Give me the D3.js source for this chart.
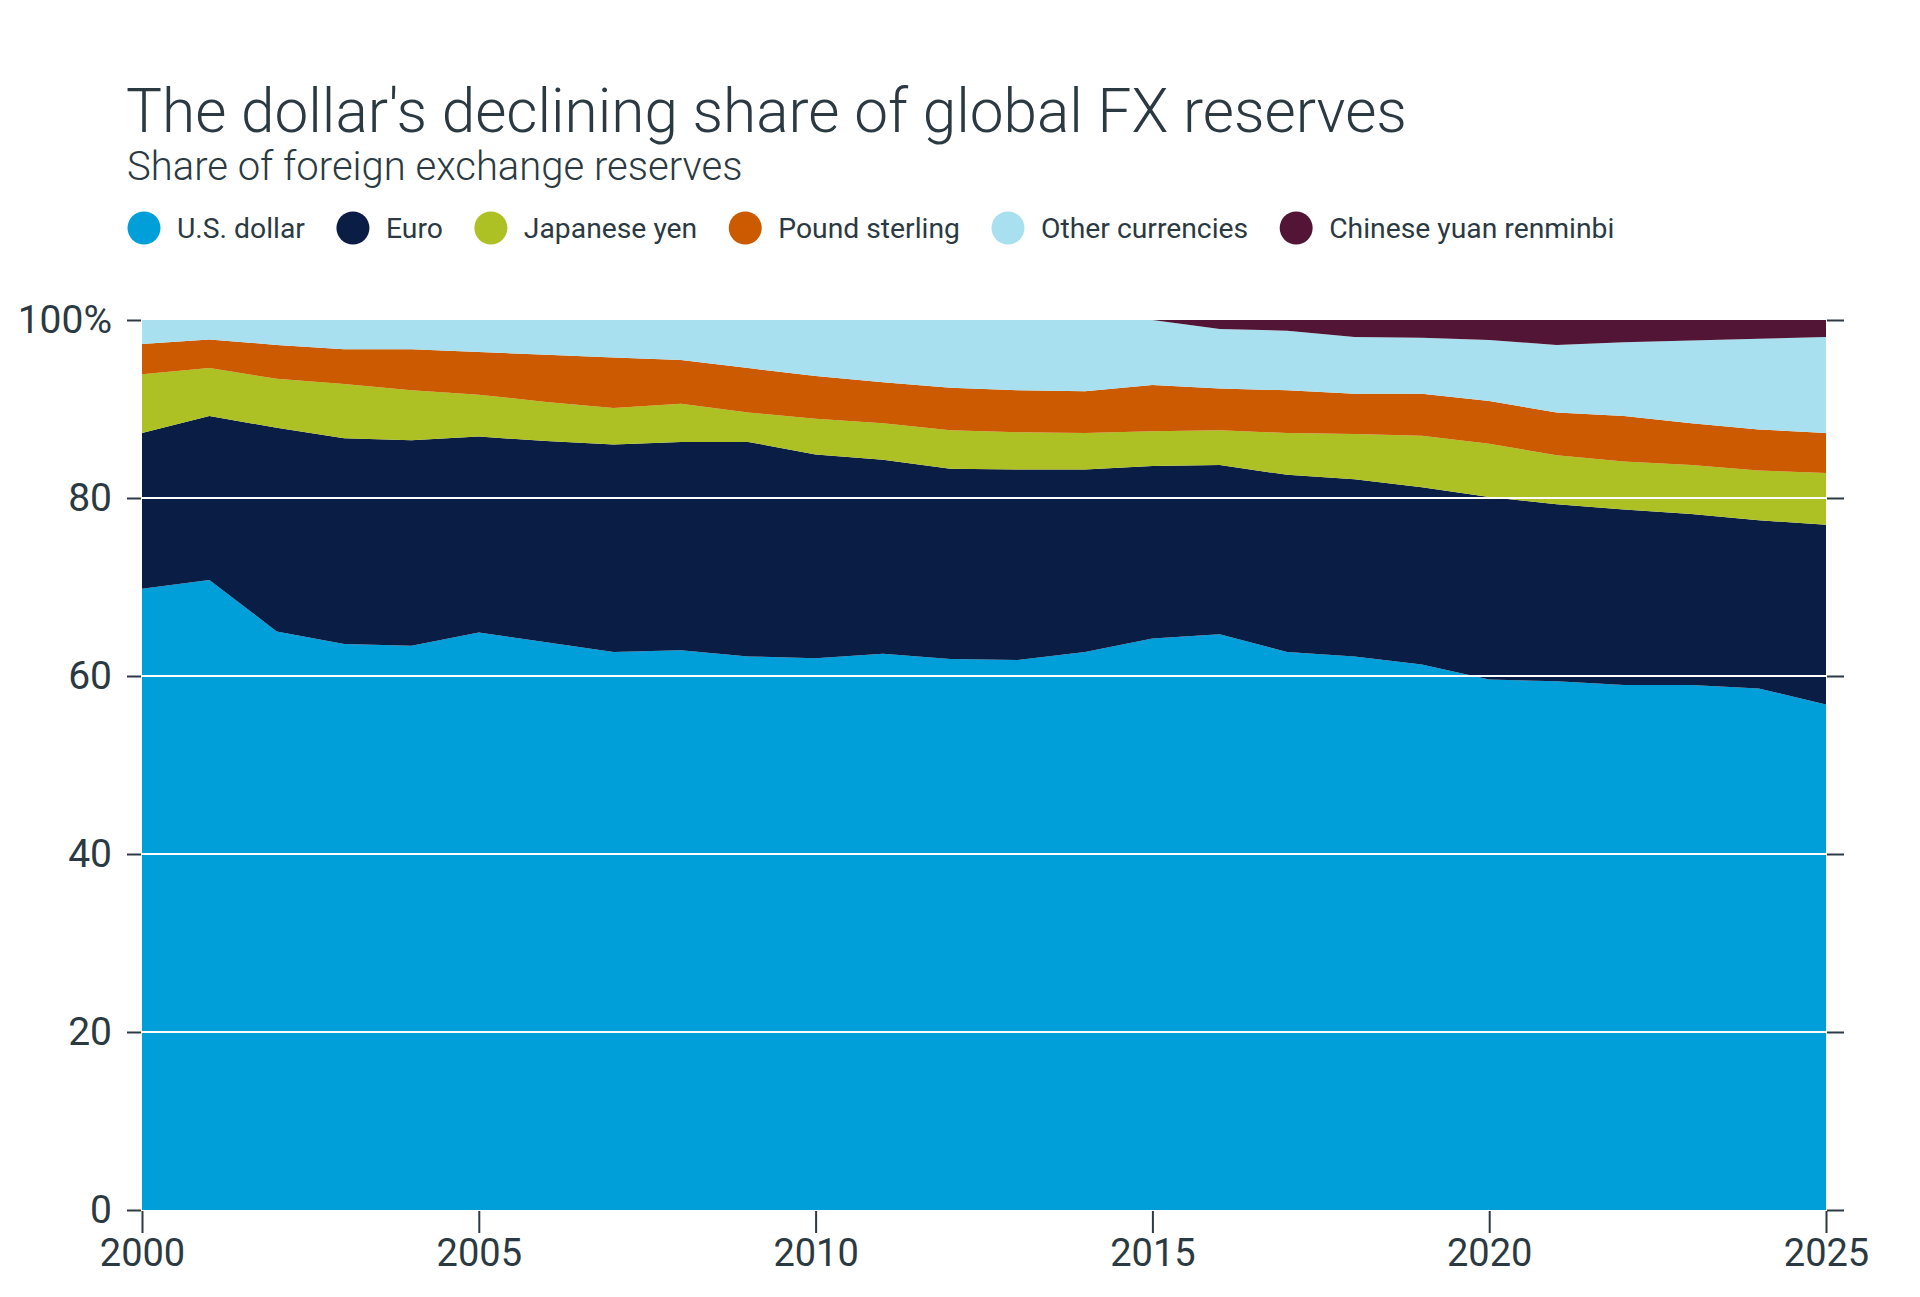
<!DOCTYPE html>
<html>
<head>
<meta charset="utf-8">
<script src="https://cdn.jsdelivr.net/npm/d3@7"></script>
<style>
  body { margin: 0; background: #fff; }
  svg { display: block; }
  .tick line { stroke: #2d3a45; stroke-width: 2; }
  .tick text { fill: #2b3a42; font-family: Roboto, sans-serif; }
</style>
</head>
<body>
<div id="chart"></div>
<script>
// shares of foreign exchange reserves (%)
const years = d3.range(2000, 2026);
const usd   = [69.8, 70.8, 65.0, 63.6, 63.4, 64.9, 63.8, 62.7, 62.9, 62.2, 62.0, 62.5, 61.9, 61.8, 62.7, 64.2, 64.7, 62.7, 62.2, 61.3, 59.6, 59.4, 59.0, 59.0, 58.6, 56.8];
const euro  = [17.5, 18.4, 22.9, 23.1, 23.1, 22.0, 22.6, 23.3, 23.4, 24.1, 22.9, 21.8, 21.4, 21.4, 20.5, 19.4, 19.0, 19.9, 19.9, 19.9, 20.5, 19.9, 19.7, 19.2, 18.9, 20.2];
const yen   = [6.6, 5.4, 5.5, 6.1, 5.6, 4.7, 4.4, 4.1, 4.3, 3.3, 4.0, 4.1, 4.3, 4.2, 4.1, 3.9, 3.9, 4.7, 5.1, 5.8, 6.0, 5.5, 5.4, 5.5, 5.6, 5.8];
const gbp   = [3.4, 3.2, 3.8, 3.9, 4.6, 4.8, 5.3, 5.7, 4.9, 5.0, 4.8, 4.6, 4.8, 4.7, 4.7, 5.2, 4.7, 4.8, 4.5, 4.7, 4.8, 4.8, 5.1, 4.7, 4.6, 4.5];
const other = [2.7, 2.2, 2.8, 3.3, 3.3, 3.6, 3.9, 4.2, 4.5, 5.4, 6.3, 7.0, 7.6, 7.9, 8.0, 7.3, 6.7, 6.7, 6.4, 6.3, 6.85, 7.6, 8.3, 9.3, 10.2, 10.8];
const cny   = [0, 0, 0, 0, 0, 0, 0, 0, 0, 0, 0, 0, 0, 0, 0, 0, 1.0, 1.2, 1.9, 2.0, 2.25, 2.8, 2.5, 2.3, 2.1, 1.9];

const seriesKeys   = ["usd", "euro", "yen", "gbp", "other", "cny"];
const seriesLabels = ["U.S. dollar", "Euro", "Japanese yen", "Pound sterling", "Other currencies", "Chinese yuan renminbi"];
const seriesColors = ["#009fda", "#0a1d45", "#adc124", "#cc5a00", "#a8e0ef", "#521536"];
const yTicks = [0, 20, 40, 60, 80, 100];
const xTicks = [2000, 2005, 2010, 2015, 2020, 2025];

const width = 1920, height = 1297;
const margin = {top: 320, right: 94, bottom: 87, left: 142};

const svg = d3.select("#chart").append("svg")
    .attr("width", width)
    .attr("height", height);

// build rows for d3.stack
const rows = years.map(function(y, i) {
    return {year: y, usd: usd[i], euro: euro[i], yen: yen[i], gbp: gbp[i], other: other[i], cny: cny[i]};
});
const stacked = d3.stack().keys(seriesKeys)(rows);

const x = d3.scaleLinear()
    .domain([2000, 2025])
    .range([margin.left, width - margin.right]);
const y = d3.scaleLinear()
    .domain([0, 100])
    .range([height - margin.bottom, margin.top]);

const color = d3.scaleOrdinal().domain(seriesKeys).range(seriesColors);

// title + subtitle
svg.append("text")
    .attr("x", 126)
    .attr("y", 132)
    .attr("fill", "#2b3a42")
    .attr("font-family", "Roboto, sans-serif")
    .attr("font-weight", 300)
    .attr("font-size", 60.3)
    .text("The dollar's declining share of global FX reserves");

svg.append("text")
    .attr("x", 127)
    .attr("y", 180)
    .attr("fill", "#2b3a42")
    .attr("font-family", "Roboto, sans-serif")
    .attr("font-weight", 300)
    .attr("font-size", 40)
    .text("Share of foreign exchange reserves");

// legend, laid out left to right
const legend = svg.append("g").attr("transform", "translate(0,228)");
let lx = 144;
seriesKeys.forEach(function(k, i) {
    const g = legend.append("g").attr("transform", "translate(" + lx + ",0)");
    g.append("circle").attr("r", 16.5).attr("fill", seriesColors[i]);
    const t = g.append("text")
        .attr("x", 33)
        .attr("dy", "0.35em")
        .attr("fill", "#2b3a42")
        .attr("font-family", "Roboto, sans-serif")
        .attr("font-size", 28.3)
        .text(seriesLabels[i]);
    lx += 33 + t.node().getComputedTextLength() + 48;
});

// stacked areas
const area = d3.area()
    .x(function(d) { return x(d.data.year); })
    .y0(function(d) { return y(d[0]); })
    .y1(function(d) { return y(d[1]); });

svg.append("g").selectAll("path")
    .data(stacked)
    .enter().append("path")
    .attr("fill", function(d) { return color(d.key); })
    .attr("d", area);

// white gridlines on top of the areas
svg.append("g").selectAll("line")
    .data([20, 40, 60, 80])
    .enter().append("line")
    .attr("x1", x(2000))
    .attr("x2", x(2025))
    .attr("y1", function(d) { return y(d); })
    .attr("y2", function(d) { return y(d); })
    .attr("stroke", "#fff")
    .attr("stroke-width", 2);

// axes
const yAxisL = svg.append("g")
    .attr("transform", "translate(" + (margin.left - 1) + ",0)")
    .call(d3.axisLeft(y).tickValues(yTicks).tickSize(14).tickPadding(15)
        .tickFormat(function(d) { return d === 100 ? "100%" : d; }));
yAxisL.select(".domain").remove();
yAxisL.selectAll(".tick text").attr("font-size", 39);

const yAxisR = svg.append("g")
    .attr("transform", "translate(" + (width - margin.right + 1) + ",0)")
    .call(d3.axisRight(y).tickValues(yTicks).tickSize(17).tickFormat(""));
yAxisR.select(".domain").remove();

const xAxis = svg.append("g")
    .attr("transform", "translate(0," + (height - margin.bottom + 1) + ")")
    .call(d3.axisBottom(x).tickValues(xTicks).tickSize(22).tickPadding(6)
        .tickFormat(d3.format("d")));
xAxis.select(".domain").remove();
xAxis.selectAll(".tick text").attr("font-size", 38);
</script>
</body>
</html>
